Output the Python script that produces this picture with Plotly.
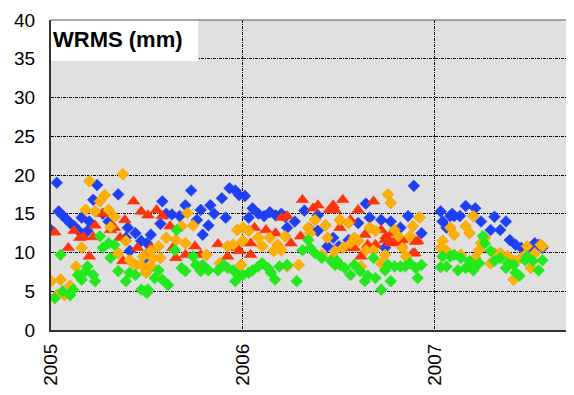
import plotly.graph_objects as go

# ---- data (decimal year, WRMS mm) ----
blue_t = [2005.00, 2005.03, 2005.04, 2005.06, 2005.08, 2005.10, 2005.12, 2005.14, 2005.17, 2005.19,
          2005.20, 2005.16, 2005.22, 2005.24, 2005.27, 2005.30, 2005.35, 2005.40, 2005.44, 2005.39,
          2005.41, 2005.47, 2005.50, 2005.49, 2005.52, 2005.57, 2005.58, 2005.60, 2005.63, 2005.67,
          2005.70, 2005.73, 2005.78, 2005.76, 2005.82, 2005.79, 2005.83, 2005.85, 2005.91, 2005.89,
          2005.93, 2005.96, 2005.98, 2006.01, 2006.05, 2006.03, 2006.08, 2006.11, 2006.14, 2006.17,
          2006.20, 2006.22, 2006.32, 2006.23, 2006.39, 2006.44, 2006.39, 2006.47, 2006.50, 2006.55,
          2006.60, 2006.64, 2006.66, 2006.72, 2006.74, 2006.77, 2006.82, 2006.86, 2006.89, 2006.93,
          2006.27, 2006.35,
          2007.03, 2007.04, 2007.06, 2007.08, 2007.10, 2007.13, 2007.16, 2007.21, 2007.24, 2007.31,
          2007.29, 2007.37, 2007.34, 2007.39, 2007.42, 2007.45, 2007.48, 2007.52, 2007.56, 2007.09,
          2007.50, 2007.54]
blue_v = [12.9, 19.0, 15.3, 14.8, 14.3, 13.8, 13.4, 12.9, 12.3, 12.8,
          14.0, 14.5, 16.8, 18.7, 15.0, 14.0, 17.5, 13.2, 12.5, 11.9,
          10.2, 11.5, 11.2, 9.3, 12.3, 13.7, 16.6, 15.0, 14.9, 14.7,
          16.1, 18.0, 15.5, 14.2, 13.5, 12.3, 16.1, 15.0, 14.5, 17.0,
          18.3, 18.0, 17.4, 17.3, 15.7, 14.5, 15.0, 14.7, 15.2, 14.8,
          15.0, 14.6, 15.4, 13.2, 12.8, 10.8, 14.8, 11.9, 10.8, 11.6,
          13.8, 16.3, 14.5, 14.2, 10.6, 14.0, 13.2, 14.7, 18.6, 12.5,
          14.0, 13.0,
          15.3, 14.0, 13.2, 14.7, 14.7, 14.7, 16.0, 15.7, 14.0, 14.6,
          12.9, 14.0, 12.9, 11.6, 11.0, 10.6, 10.4, 11.2, 10.6, 15.0,
          10.5, 11.0]

red_t = [2005.02, 2005.09, 2005.12, 2005.15, 2005.17, 2005.20, 2005.22, 2005.23, 2005.27, 2005.31,
         2005.33, 2005.36, 2005.375, 2005.43, 2005.385, 2005.45, 2005.47, 2005.505, 2005.55, 2005.58,
         2005.62, 2005.52, 2005.65, 2005.635, 2005.70, 2005.75, 2005.78, 2005.87, 2005.92, 2005.97,
         2006.06, 2006.04, 2006.12, 2006.17, 2006.20, 2006.23, 2006.25, 2006.31, 2006.365, 2006.39,
         2006.45, 2005.98, 2006.04, 2006.30, 2006.52, 2006.60, 2006.68, 2006.505, 2006.56, 2006.635,
         2006.65, 2006.565, 2006.58, 2006.615, 2006.69, 2006.72, 2006.74, 2006.77, 2006.745, 2006.79,
         2006.82, 2006.91, 2006.885, 2006.48, 2006.47, 2006.775, 2006.80, 2006.83, 2006.895, 2006.90]
red_v = [12.6, 10.6, 12.8, 11.9, 12.0, 9.5, 12.0, 13.5, 15.0, 12.9,
         13.2, 11.9, 8.9, 16.6, 14.2, 10.6, 15.3, 14.8, 15.5, 14.7,
         13.4, 10.6, 9.3, 10.6, 9.7, 10.8, 9.7, 11.1, 9.5, 10.6,
         13.2, 11.2, 12.9, 12.5, 14.5, 14.7, 11.2, 16.8, 15.7, 16.1,
         15.5, 10.2, 9.7, 12.1, 16.8, 15.5, 16.6, 13.2, 14.2, 12.3,
         11.0, 10.6, 10.6, 9.5, 11.0, 12.9, 11.6, 11.2, 12.1, 11.5,
         11.2, 11.5, 9.9, 15.5, 16.1, 12.5, 11.6, 11.6, 9.9, 11.4]

orange_t = [2005.375, 2005.20, 2005.28, 2005.255, 2005.18, 2005.23, 2005.30, 2005.33, 2005.31, 2005.39,
            2005.16, 2005.13, 2005.00, 2005.05, 2005.03, 2005.07, 2005.10, 2005.35, 2005.41, 2005.44,
            2005.47, 2005.495, 2005.48, 2005.71, 2005.74, 2005.68, 2005.60, 2005.65, 2005.70, 2005.56,
            2005.52, 2005.57, 2005.53, 2005.50, 2005.52, 2005.81, 2005.88, 2005.92, 2005.95, 2005.97,
            2005.99, 2006.00, 2006.03, 2006.00, 2006.08, 2006.10, 2006.14, 2006.18, 2006.20, 2006.16,
            2006.22, 2006.34, 2006.35, 2006.375, 2006.43, 2006.44, 2006.23, 2006.29, 2006.41, 2006.47,
            2006.755, 2006.77, 2006.505, 2006.55, 2006.66, 2006.69, 2006.79, 2006.81, 2006.885, 2006.92,
            2006.87, 2006.58, 2006.60, 2006.56, 2006.52, 2006.64, 2006.68, 2006.74, 2006.72, 2006.615,
            2006.83, 2006.85, 2006.48,
            2007.04, 2007.03, 2007.06, 2007.08, 2007.10, 2007.135, 2007.16, 2007.18, 2007.20, 2007.21,
            2007.23, 2007.24, 2007.26, 2007.29, 2007.31, 2007.34, 2007.38, 2007.41, 2007.42, 2007.45,
            2007.47, 2007.48, 2007.50, 2007.52, 2007.55, 2007.56]
orange_v = [20.1, 19.2, 17.4, 16.6, 15.5, 15.3, 15.5, 14.6, 13.3, 11.5,
            10.6, 8.2, 6.3, 6.5, 4.5, 4.5, 5.7, 9.9, 9.0, 8.4,
            8.4, 7.4, 9.5, 15.1, 13.5, 13.4, 11.9, 11.6, 11.2, 10.8,
            10.2, 9.3, 9.3, 7.6, 8.3, 9.7, 8.6, 10.8, 11.0, 12.9,
            8.4, 13.2, 12.8, 11.5, 11.9, 10.8, 11.9, 11.0, 10.3, 10.2,
            12.1, 13.2, 12.5, 14.2, 13.5, 11.9, 8.2, 8.4, 9.7, 9.3,
            17.5, 16.4, 14.2, 13.8, 13.2, 12.8, 12.9, 12.1, 13.4, 14.5,
            12.1, 11.9, 11.5, 11.2, 10.6, 10.3, 10.3, 9.7, 8.6, 8.2,
            10.6, 9.5, 10.2,
            11.5, 10.6, 10.2, 13.2, 12.3, 9.7, 13.4, 12.5, 14.7, 9.3,
            10.3, 11.2, 11.9, 8.6, 9.9, 9.9, 9.5, 6.5, 8.9, 9.3,
            9.7, 10.8, 8.0, 9.9, 11.0, 10.8]

green_t = [2005.05, 2005.02, 2005.06, 2005.10, 2005.115, 2005.14, 2005.16, 2005.18, 2005.19, 2005.22,
           2005.23, 2005.255, 2005.27, 2005.30, 2005.31, 2005.33, 2005.35, 2005.39, 2005.41, 2005.44,
           2005.47, 2005.49, 2005.505, 2005.50, 2005.54, 2005.56, 2005.58, 2005.61, 2005.645, 2005.655,
           2005.68, 2005.70, 2005.74, 2005.755, 2005.78, 2005.79, 2005.82, 2005.87, 2005.90, 2005.92,
           2005.95, 2005.96, 2005.98, 2006.00, 2006.03, 2006.05, 2006.08, 2006.10, 2006.13, 2006.146,
           2006.167, 2006.19, 2006.23, 2006.28, 2006.31, 2006.34, 2006.35, 2006.375, 2006.41, 2006.46,
           2006.48, 2006.49, 2006.505, 2006.53, 2006.56, 2006.58, 2006.61, 2006.635, 2006.65, 2006.68,
           2006.69, 2006.72, 2006.74, 2006.755, 2006.77, 2006.79, 2006.82, 2006.845, 2006.87, 2006.90,
           2006.91, 2006.93,
           2007.03, 2007.06, 2007.04, 2007.08, 2007.10, 2007.12, 2007.135, 2007.16, 2007.18, 2007.20,
           2007.21, 2007.23, 2007.25, 2007.26, 2007.29, 2007.31, 2007.34, 2007.37, 2007.38, 2007.41,
           2007.42, 2007.44, 2007.47, 2007.48, 2007.51, 2007.54, 2007.56]
green_v = [9.7, 4.1, 5.0, 4.5, 5.2, 7.1, 6.5, 7.6, 8.2, 7.1,
           6.3, 12.1, 10.6, 11.2, 9.3, 11.0, 7.6, 6.3, 7.4, 7.1,
           5.2, 5.0, 5.2, 4.8, 6.7, 7.7, 6.5, 5.8, 10.3, 12.9,
           8.0, 7.6, 9.5, 8.4, 7.6, 8.4, 7.7, 7.7, 8.4, 8.0,
           7.7, 6.3, 7.0, 7.1, 7.4, 7.7, 8.2, 8.6, 8.0, 7.4,
           6.5, 8.2, 8.4, 6.3, 10.3, 11.6, 10.6, 9.9, 9.3, 8.9,
           8.4, 8.9, 8.4, 8.0, 7.1, 8.4, 7.6, 6.3, 7.0, 9.3,
           6.7, 5.2, 7.7, 8.4, 6.3, 8.2, 8.2, 8.2, 8.6, 8.0,
           6.7, 8.4,
           8.1, 8.2, 9.5, 9.5, 9.7, 7.7, 9.3, 8.0, 8.9, 7.7,
           8.2, 8.6, 12.1, 11.2, 10.2, 8.9, 9.3, 8.0, 8.6, 8.4,
           7.4, 7.0, 9.0, 9.5, 8.9, 7.7, 9.0]

year_ticks = [2005, 2006, 2007]
year_labels = ["2005", "2006", "2007"]
y_ticks = [0, 5, 10, 15, 20, 25, 30, 35, 40]

FONT = "Liberation Sans, Arial, sans-serif"

fig = go.Figure()
fig.add_trace(go.Scatter(x=blue_t, y=blue_v, mode="markers",
                         marker=dict(symbol="diamond", size=9, color="#1f3ff5",
                                     line=dict(width=0.6, color="#1f3ff5"))))
fig.add_trace(go.Scatter(x=red_t, y=red_v, mode="markers",
                         marker=dict(symbol="triangle-up", size=11, color="#ff3308",
                                     line=dict(width=0.6, color="#ff3308"))))
fig.add_trace(go.Scatter(x=orange_t, y=orange_v, mode="markers",
                         marker=dict(symbol="diamond-dot", size=9, color="#ffb000",
                                     line=dict(width=0.8, color="#f0a000"))))
fig.add_trace(go.Scatter(x=green_t, y=green_v, mode="markers",
                         marker=dict(symbol="diamond", size=9, color="#22e81c",
                                     line=dict(width=0.6, color="#22e81c"))))

dash = "3px,1px,1px,1px"
fig.update_layout(
    width=574, height=395,
    margin=dict(l=43, r=0, t=12, b=73),
    paper_bgcolor="white", plot_bgcolor="#e0e0e0",
    showlegend=False,
    font=dict(family=FONT, size=19, color="black"),
    xaxis=dict(range=[2005, 2007.766], tickvals=year_ticks, ticktext=year_labels,
               tickangle=-90, showgrid=True, gridcolor="black", gridwidth=1, griddash=dash,
               showline=True, linecolor="#333333", linewidth=2, zeroline=False,
               ticks="", ticklabelstandoff=4, tickfont=dict(size=19)),
    yaxis=dict(range=[0, 40], tickvals=y_ticks, showgrid=True, gridcolor="black",
               gridwidth=1, griddash=dash, showline=True, linecolor="#333333", linewidth=2,
               zeroline=False, ticks="", ticklabelstandoff=10, tickfont=dict(size=19)),
    shapes=[dict(type="rect", xref="x domain", yref="y domain", x0=0, x1=0.277,
                 y0=0.868, y1=1.0, fillcolor="white", line=dict(width=0), layer="above"),
            dict(type="line", xref="x domain", yref="y domain", x0=0, x1=1,
                 y0=1, y1=1, line=dict(width=1, color="#555555"), layer="above")],
    annotations=[dict(text="<b>WRMS (mm)</b>", xref="x domain", yref="y domain",
                      x=0.0, y=0.936, xanchor="left", yanchor="middle", showarrow=False,
                      font=dict(family="Liberation Sans, Arial, sans-serif", size=22, color="black"))],
)

fig.write_html("out.html")
